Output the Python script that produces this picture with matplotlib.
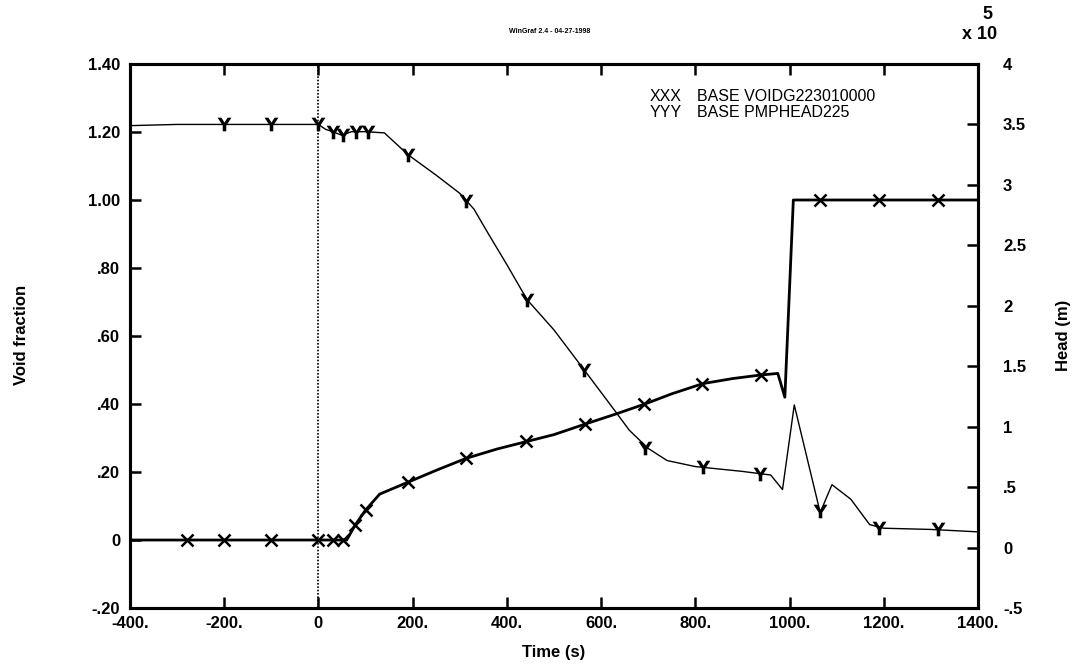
import numpy as np
import matplotlib.pyplot as plt
from matplotlib.ticker import FixedLocator, FixedFormatter

plt.rcParams['font.family'] = ['Liberation Sans', 'DejaVu Sans']
plt.rcParams['font.weight'] = 'bold'

# void fraction (left axis)
time_void = [-400, 0, 60, 78, 100, 130, 190, 250, 313, 380, 443, 500, 564,
             630, 693, 750, 816, 880, 937, 975, 990, 1008, 1400]
void = [0, 0, 0, 0.044, 0.088, 0.135, 0.17, 0.205, 0.24, 0.268, 0.29, 0.31,
        0.34, 0.37, 0.40, 0.43, 0.46, 0.475, 0.485, 0.49, 0.42, 1.00, 1.00]
void_mark_t = [-280, -200, -100, 0, 30, 52, 78, 100, 190, 313, 440, 565,
               690, 815, 940, 1065, 1190, 1315]
void_mark_v = [0, 0, 0, 0, 0, 0, 0.044, 0.088, 0.17, 0.24, 0.29, 0.34,
               0.40, 0.46, 0.485, 1.0, 1.0, 1.0]

# pump head (right axis, x 1e5)
time_head = [-400, -300, -200, -100, 0, 15, 30, 50, 70, 100, 140, 190, 250,
             300, 330, 360, 400, 443, 500, 564, 620, 660, 700, 740, 800, 900,
             960, 985, 1010, 1065, 1090, 1130, 1170, 1200, 1300, 1400]
head = [3.49, 3.50, 3.50, 3.50, 3.50, 3.46, 3.44, 3.41, 3.44, 3.44, 3.43,
        3.25, 3.08, 2.93, 2.80, 2.60, 2.34, 2.05, 1.80, 1.47, 1.18, 0.97,
        0.82, 0.72, 0.67, 0.63, 0.60, 0.48, 1.18, 0.29, 0.52, 0.40, 0.19,
        0.16, 0.15, 0.13]
head_mark_t = [-200, -100, 0, 30, 52, 80, 105, 190, 313, 443, 564, 693, 816,
               937, 1065, 1190, 1315]
head_mark_v = [3.5, 3.5, 3.5, 3.44, 3.41, 3.44, 3.44, 3.25, 2.87, 2.05, 1.47,
               0.82, 0.67, 0.61, 0.30, 0.16, 0.15]

x_ticks = [-400, -200, 0, 200, 400, 600, 800, 1000, 1200, 1400]
x_labels = ['-400.', '-200.', '0', '200.', '400.', '600.', '800.', '1000.',
            '1200.', '1400.']
left_ticks = [-0.2, 0, 0.2, 0.4, 0.6, 0.8, 1.0, 1.2, 1.4]
left_labels = ['-.20', '0', '.20', '.40', '.60', '.80', '1.00', '1.20', '1.40']
right_ticks = [-0.5, 0, 0.5, 1, 1.5, 2, 2.5, 3, 3.5, 4]
right_labels = ['-.5', '0', '.5', '1', '1.5', '2', '2.5', '3', '3.5', '4']

fig = plt.figure(figsize=(10.85, 6.70), dpi=100)
ax = fig.add_axes([0.1198, 0.0925, 0.7816, 0.812])
ax2 = ax.twinx()

ax.plot(time_void, void, color='black', lw=2.0)
ax.plot(void_mark_t, void_mark_v, ls='none', marker='x', ms=9, mew=1.8,
        color='black')
ax2.plot(time_head, head, color='black', lw=1.0)
ax2.plot(head_mark_t, head_mark_v, ls='none', marker='$\\mathsf{Y}$', ms=10,
         mew=0, color='black')

ax.axvline(0, color='black', lw=1.2, ls=(0, (1, 1)))

ax.set_xlim(-400, 1400)
ax.set_ylim(-0.2, 1.4)
ax2.set_ylim(-0.5, 4)

ax.xaxis.set_major_locator(FixedLocator(x_ticks))
ax.xaxis.set_major_formatter(FixedFormatter(x_labels))
ax.yaxis.set_major_locator(FixedLocator(left_ticks))
ax.yaxis.set_major_formatter(FixedFormatter(left_labels))
ax2.yaxis.set_major_locator(FixedLocator(right_ticks))
ax2.yaxis.set_major_formatter(FixedFormatter(right_labels))

ax.tick_params(axis='x', direction='in', top=True, length=8, width=1.8,
               labelsize=12, pad=6)
ax.tick_params(axis='y', direction='in', length=8, width=1.8, labelsize=12,
               pad=7)
ax2.tick_params(axis='y', direction='in', length=8, width=1.8, labelsize=12,
                pad=18)
for a in (ax, ax2):
    for s in a.spines.values():
        s.set_linewidth(2.2)
    for lab in a.get_xticklabels() + a.get_yticklabels():
        lab.set_fontweight('bold')
for lab in ax2.get_yticklabels():
    lab.set_horizontalalignment('left')

ax.set_xlabel('Time (s)', fontsize=12, fontweight='bold', labelpad=10)
fig.text(0.020, 0.50, 'Void fraction', rotation=90, fontsize=12,
         fontweight='bold', ha='center', va='center')
fig.text(0.980, 0.50, 'Head (m)', rotation=90, fontsize=12,
         fontweight='bold', ha='center', va='center')

# exponent label
fig.text(0.903, 0.948, 'x 10', fontsize=13, fontweight='bold',
         ha='center', va='center')
fig.text(0.910, 0.978, '5', fontsize=13, fontweight='bold',
         ha='center', va='center')

fig.text(0.507, 0.953, 'WinGraf 2.4 - 04-27-1998', fontsize=5,
         ha='center', va='center')

# legend as text
ax.text(0.613, 0.941, 'XXX', transform=ax.transAxes, fontsize=11.5,
        fontweight='normal', va='center')
ax.text(0.669, 0.941, 'BASE VOIDG223010000', transform=ax.transAxes,
        fontsize=11.5, fontweight='normal', va='center')
ax.text(0.613, 0.910, 'YYY', transform=ax.transAxes, fontsize=11.5,
        fontweight='normal', va='center')
ax.text(0.669, 0.910, 'BASE PMPHEAD225', transform=ax.transAxes,
        fontsize=11.5, fontweight='normal', va='center')

fig.savefig('out.png', dpi=100)
